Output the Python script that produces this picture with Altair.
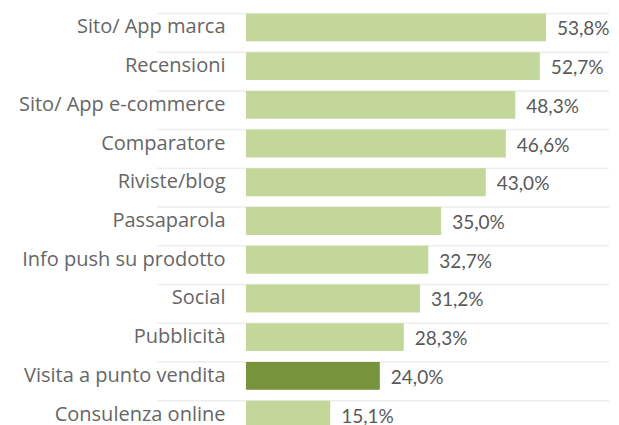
import altair as alt
import pandas as pd

categories = [
    "Sito/ App marca", "Recensioni", "Sito/ App e-commerce", "Comparatore",
    "Riviste/blog", "Passaparola", "Info push su prodotto", "Social",
    "Pubblicità", "Visita a punto vendita", "Consulenza online",
]
values = [53.8, 52.7, 48.3, 46.6, 43.0, 35.0, 32.7, 31.2, 28.3, 24.0, 15.1]
highlight = "Visita a punto vendita"

LIGHT = "#C4D79B"
DARK = "#77933C"

df = pd.DataFrame({"cat": categories, "val": values})
df["color"] = [DARK if c == highlight else LIGHT for c in categories]
df["label"] = [f"{v:.1f}%".replace(".", ",") for v in values]

W, H = 363, 420
BAND_RANGE = [0, 426]

y_scale = alt.Scale(paddingInner=0.28, paddingOuter=0.14, range=BAND_RANGE)
y_enc = alt.Y("cat:N", sort=categories, scale=y_scale,
              axis=alt.Axis(title=None, domain=False, ticks=False, grid=False,
                            labelFont="Open Sans", labelFontSize=20,
                            labelColor="#666666", labelPadding=21, labelLimit=300))
x_scale = alt.Scale(domain=[0, 65.1], nice=False, zero=True)

grid = alt.Chart(df).mark_rule(color="#EDEDED", strokeWidth=1.5).encode(
    y=alt.Y("cat:N", sort=categories, bandPosition=0),
    x=alt.value(-89),
    x2=alt.value(W),
)

bars = alt.Chart(df).mark_bar().encode(
    y=y_enc,
    x=alt.X("val:Q", scale=x_scale, axis=None),
    color=alt.Color("color:N", scale=None),
)

labels = alt.Chart(df).mark_text(
    align="left", baseline="middle", dx=11, dy=2,
    font="Lato", fontSize=19, color="#595959",
).encode(
    y=alt.Y("cat:N", sort=categories),
    x=alt.X("val:Q", scale=x_scale),
    text="label:N",
)

chart = alt.layer(grid, bars, labels).properties(
    width=W, height=H,
    autosize=alt.AutoSizeParams(type="none"),
    padding={"left": 238, "top": 0, "right": 2, "bottom": 0},
).configure_view(stroke=None)

chart.save("out.html", embed_options={"renderer": "svg", "actions": False})
